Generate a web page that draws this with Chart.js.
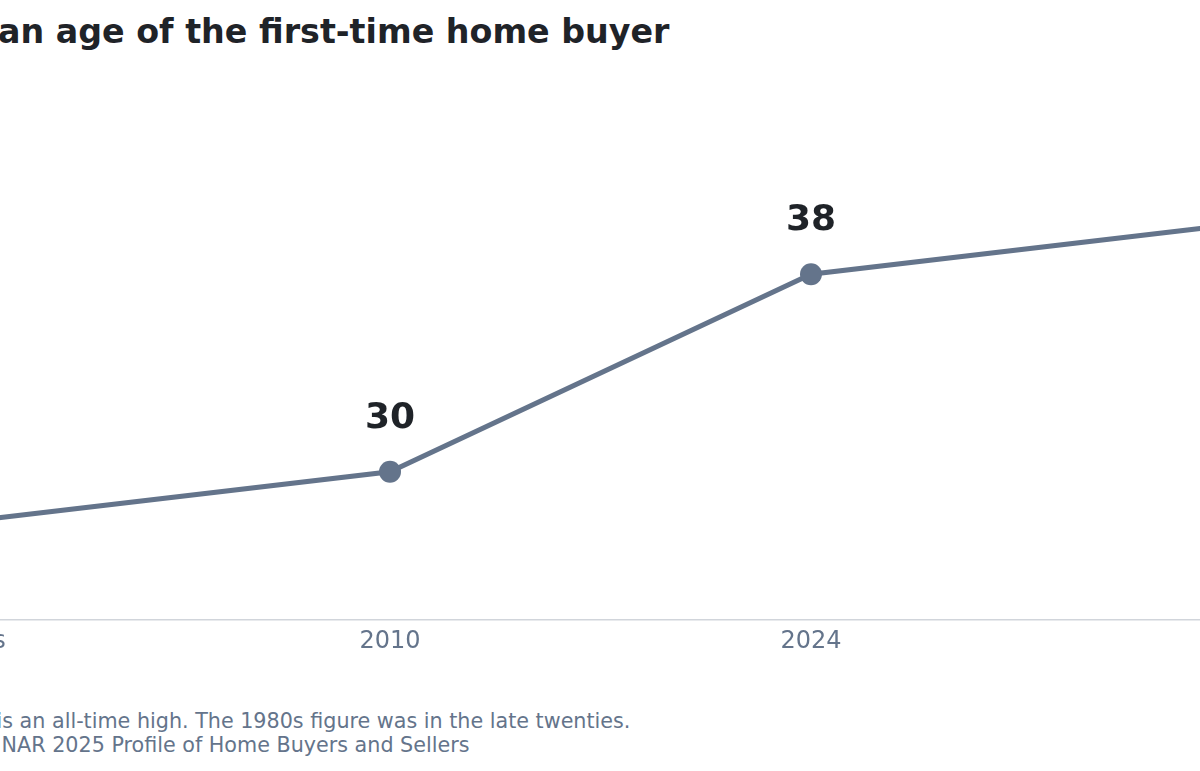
<!DOCTYPE html>
<html>
<head>
<meta charset="utf-8">
<script src="https://cdn.jsdelivr.net/npm/chart.js@4.4.1/dist/chart.umd.min.js"></script>
<style>
  html, body { margin: 0; padding: 0; background: #fff; overflow: hidden; width: 1200px; height: 771px; }
  body { position: relative; font-family: "DejaVu Sans", sans-serif; }
  #title { position: absolute; left: -93px; top: 8px; margin: 0; font-size: 33.3px; font-weight: bold; color: #1f2328; white-space: nowrap; line-height: 48px; }
  #chartBox { position: absolute; left: -100px; top: 60px; width: 1400px; height: 620px; }
  #notes { position: absolute; left: -83px; top: 709px; font-size: 20.7px; line-height: 24px; color: #64748b; white-space: nowrap; }
</style>
</head>
<body>
<h1 id="title">Median age of the first-time home buyer</h1>
<div id="chartBox"><canvas id="chart"></canvas></div>
<div id="notes">
  <div>Age 40 is an all-time high. The 1980s figure was in the late twenties.</div>
  <div>Source: NAR 2025 Profile of Home Buyers and Sellers</div>
</div>
<script>
// данные
const categories = ['1980s', '2010', '2024', '2025'];
const medianAge = [28, 30, 38, 40];
const yMin = 24;
const yMax = 44;

const lineColor = '#64748b';

// подписи значений над точками
const valueLabels = {
  id: 'valueLabels',
  afterDatasetsDraw(chart) {
    const ctx = chart.ctx;
    const meta = chart.getDatasetMeta(0);
    ctx.save();
    ctx.font = 'bold 36px "DejaVu Sans"';
    ctx.fillStyle = '#1f2328';
    ctx.textAlign = 'center';
    ctx.textBaseline = 'alphabetic';
    meta.data.forEach((pt, i) => {
      ctx.fillText(String(medianAge[i]), pt.x, pt.y - 44);
    });
    ctx.restore();
  }
};

new Chart(document.getElementById('chart'), {
  type: 'line',
  data: {
    labels: categories,
    datasets: [{
      data: medianAge,
      borderColor: lineColor,
      borderWidth: 5,
      backgroundColor: lineColor,
      pointBackgroundColor: lineColor,
      pointBorderWidth: 0,
      pointRadius: 11,
      tension: 0,
      clip: false
    }]
  },
  options: {
    responsive: true,
    maintainAspectRatio: false,
    animation: false,
    layout: { padding: { left: 69, right: 68, top: 66, bottom: 0 } },
    plugins: {
      legend: { display: false },
      tooltip: { enabled: false },
      title: { display: false }
    },
    scales: {
      x: {
        offset: false,
        grid: { display: false, drawTicks: false },
        border: { display: true, color: '#d1d5db', width: 1.5 },
        ticks: {
          color: '#64748b',
          font: { family: 'DejaVu Sans', size: 24 },
          padding: 7,
          maxRotation: 0,
          autoSkip: false
        },
        afterFit(scale) { scale.height = 60; }
      },
      y: {
        display: false,
        min: yMin,
        max: yMax
      }
    }
  },
  plugins: [valueLabels]
});
</script>
</body>
</html>
